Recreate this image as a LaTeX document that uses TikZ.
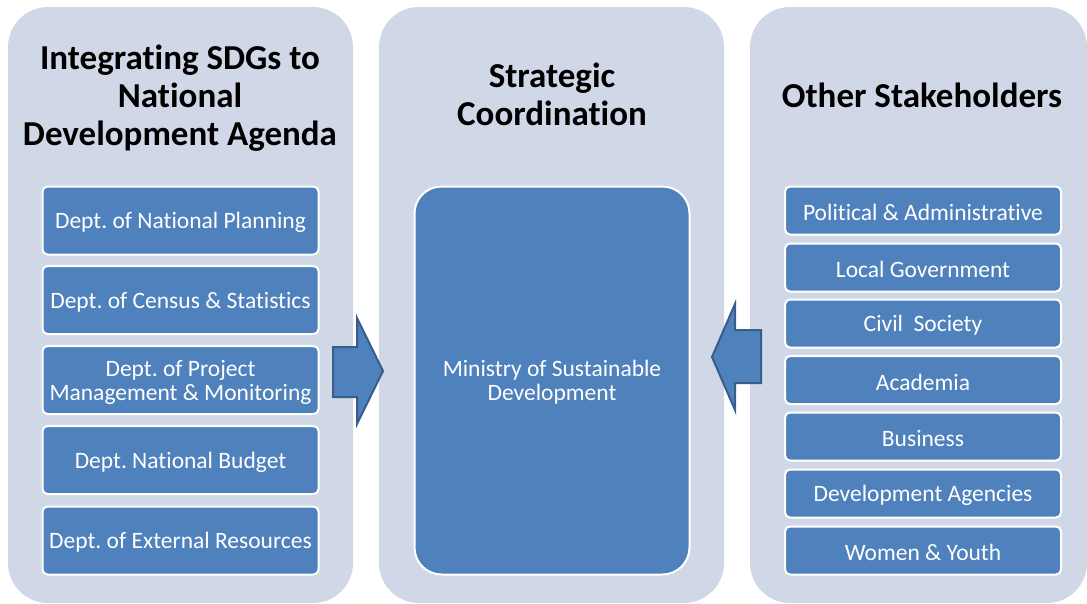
\documentclass[tikz,border=0pt]{standalone}
\usepackage{fontspec}
\setmainfont{Carlito}[Ligatures=NoCommon]
\frenchspacing
\newcommand\lowtext[1]{\raisebox{-2pt}[\height][\depth]{#1}}
\definecolor{panelc}{HTML}{D0D8E8}
\definecolor{boxc}{HTML}{4F81BD}
\definecolor{arrowedge}{HTML}{385D8A}
\tikzset{
  panel/.style={fill=panelc, draw=none, rounded corners=40pt},
  title/.style={font=\fontsize{35}{38}\selectfont\bfseries, align=center, text=black},
  smallbox/.style={fill=boxc, draw=white, line width=2pt, rounded corners=5pt, text=white,
    font=\fontsize{23.5}{24}\selectfont, align=center, inner sep=0pt, minimum width=276pt},
  leftbox/.style={smallbox, minimum height=68pt},
  rightbox/.style={smallbox, minimum height=48pt},
  bigbox/.style={fill=boxc, draw=white, line width=2pt, rounded corners=27pt, text=white,
    font=\fontsize{23.5}{24}\selectfont, align=center, inner sep=0pt, minimum width=275pt, minimum height=388pt},
  blockarrow/.style={fill=boxc, draw=arrowedge, line width=2pt, line join=miter}
}
\begin{document}
\begin{tikzpicture}[x=1pt, y=-1pt]
\useasboundingbox (0,0) rectangle (1087,603);
% panels
\fill[panel] (8,7) rectangle (353,603);
\fill[panel] (379,7) rectangle (724,603);
\fill[panel] (750,7) rectangle (1087,603);
% titles
\node[title] (t1) at (180,98) {Integrating SDGs to\\National\\Development Agenda};
\node[title] (t2) at (552,94.5) {Strategic\\Coordination};
\node[title] (t3) at (922,95.5) {Other Stakeholders};
% left boxes
\node[leftbox] (l1) at (180.5,220.5) {\lowtext{Dept. of National Planning}};
\node[leftbox] (l2) at (180.5,300) {\lowtext{Dept. of Census \& Statistics}};
\node[leftbox] (l3) at (180.5,380) {\lowtext{Dept. of Project}\\\lowtext{Management \& Monitoring}};
\node[leftbox] (l4) at (180.5,460) {\lowtext{Dept. National Budget}};
\node[leftbox] (l5) at (180.5,540.5) {\lowtext{Dept. of External Resources}};
% middle box
\node[bigbox] (m) at (552,380.5) {\lowtext{Ministry of Sustainable}\\\lowtext{Development}};
% right boxes
\node[rightbox] (r1) at (923,210.5) {\lowtext{Political \& Administrative}};
\node[rightbox] (r2) at (923,267.5) {\lowtext{Local Government}};
\node[rightbox] (r3) at (923,323.5) {\lowtext{Civil~ Society}};
\node[rightbox] (r4) at (923,380) {\lowtext{Academia}};
\node[rightbox] (r5) at (923,436.5) {\lowtext{Business}};
\node[rightbox] (r6) at (923,493.5) {\lowtext{Development Agencies}};
\node[rightbox] (r7) at (923,550.5) {\lowtext{Women \& Youth}};
% block arrows
\draw[blockarrow] (333,347) -- (357,347) -- (357,318) -- (383,371) -- (357,424) -- (357,397) -- (333,397) -- cycle;
\draw[blockarrow] (761,330) -- (735,330) -- (735,304) -- (712,357) -- (735,410) -- (735,383) -- (761,383) -- cycle;
\end{tikzpicture}
\end{document}
